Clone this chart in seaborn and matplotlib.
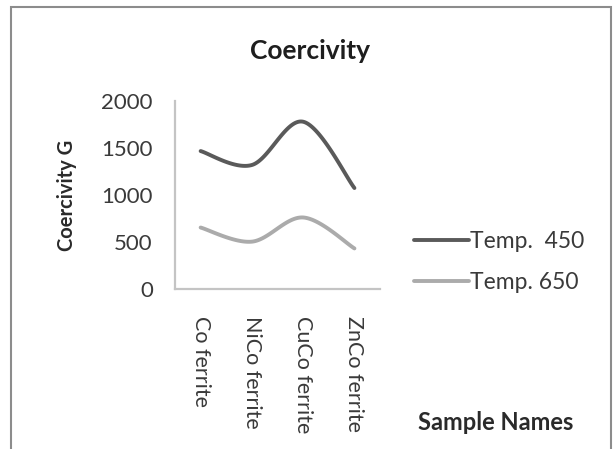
import numpy as np
import pandas as pd
import matplotlib
matplotlib.use("Agg")
import matplotlib.pyplot as plt
from matplotlib.patches import Rectangle
import seaborn as sns

samples = ["Co ferrite", "NiCo ferrite", "CuCo ferrite", "ZnCo ferrite"]
temp_450 = [1468, 1320, 1780, 1075]
temp_650 = [655, 505, 762, 433]
series_names = ["Temp.  450", "Temp. 650"]
series_colors = ["#5a5a5a", "#ababab"]


def smooth_curve(values, steps=40):
    """Catmull-Rom curve through the category points (spreadsheet-style smoothing)."""
    y = np.asarray(values, dtype=float)
    x = np.arange(len(y), dtype=float)
    px = np.concatenate([[x[0]], x, [x[-1]]])
    py = np.concatenate([[y[0]], y, [y[-1]]])
    xs, ys = [], []
    for i in range(1, len(px) - 2):
        t = np.linspace(0, 1, steps, endpoint=(i == len(px) - 3))
        p0, p1, p2, p3 = (np.array([px[j], py[j]]) for j in range(i - 1, i + 3))
        t2, t3 = t * t, t * t * t
        pts = 0.5 * ((2 * p1)[:, None]
                     + (-p0 + p2)[:, None] * t
                     + (2 * p0 - 5 * p1 + 4 * p2 - p3)[:, None] * t2
                     + (-p0 + 3 * p1 - 3 * p2 + p3)[:, None] * t3)
        xs.append(pts[0])
        ys.append(pts[1])
    return np.concatenate(xs), np.concatenate(ys)


frames = []
for name, vals in zip(series_names, [temp_450, temp_650]):
    cx, cy = smooth_curve(vals)
    frames.append(pd.DataFrame({"pos": cx, "value": cy, "series": name}))
df = pd.concat(frames, ignore_index=True)

sns.set_theme(style="white")
plt.rcParams["font.family"] = ["Lato", "DejaVu Sans"]

fig = plt.figure(figsize=(6.14, 4.49), dpi=100)
ax = fig.add_axes([0.285, 0.356, 0.334, 0.419])

sns.lineplot(data=df, x="pos", y="value", hue="series", sort=False,
             palette=dict(zip(series_names, series_colors)),
             linewidth=2.8, ax=ax, legend=False, estimator=None)

ax.set_xlim(-0.5, len(samples) - 0.5)
ax.set_ylim(0, 2000)
ax.set_yticks([0, 500, 1000, 1500, 2000])
ax.set_xticks(range(len(samples)))
ax.set_xticklabels(samples, rotation=270, va="top", ha="center")
ax.tick_params(axis="y", length=0, pad=16, labelsize=16, labelcolor="#3a3a3a")
ax.tick_params(axis="x", length=0, pad=19, labelsize=15.5, labelcolor="#3a3a3a")
ax.set_xlabel("")
ax.set_ylabel("Coercivity G", fontsize=14.5, fontweight="bold", color="#2a2a2a")
ax.yaxis.set_label_coords(-0.48, 0.5)

for side in ["top", "right"]:
    ax.spines[side].set_visible(False)
for side in ["left", "bottom"]:
    ax.spines[side].set_color("#c4c4c4")
    ax.spines[side].set_linewidth(1.6)

fig.text(0.505, 0.886, "Coercivity", ha="center", va="center",
         fontsize=19, fontweight="bold", color="#1e1e1e")
fig.text(0.808, 0.06, "Sample Names", ha="center", va="center",
         fontsize=17, fontweight="bold", color="#2a2a2a")

handles = [plt.Line2D([], [], color=c, linewidth=2.8) for c in series_colors]
fig.legend(handles, series_names, loc="center left", bbox_to_anchor=(0.656, 0.417),
           frameon=False, fontsize=16.5, handlelength=2.4, handletextpad=0.05,
           labelspacing=0.88, labelcolor="#3a3a3a", borderpad=0)

fig.add_artist(Rectangle((11 / 614, -0.05), 600 / 614, 1.05 - 7 / 449,
                         transform=fig.transFigure, fill=False,
                         edgecolor="#8c8c8c", linewidth=1.5))

fig.savefig("out.png", dpi=100)
